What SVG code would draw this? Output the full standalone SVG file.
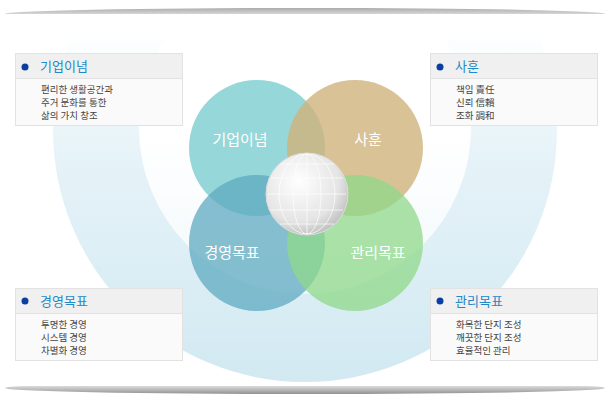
<svg xmlns="http://www.w3.org/2000/svg" width="610" height="400" viewBox="0 0 610 400">
<defs>
<linearGradient id="bg" x1="0" y1="0" x2="0" y2="1"><stop offset="0.3" stop-color="#ffffff"/><stop offset="0.55" stop-color="#e6f3f8"/><stop offset="1" stop-color="#d2e9f2"/></linearGradient>
<linearGradient id="inner" x1="0" y1="0" x2="0" y2="1"><stop offset="0.5" stop-color="#ffffff"/><stop offset="1" stop-color="#ffffff" stop-opacity="0.6"/></linearGradient>
<radialGradient id="sph" cx="0.4" cy="0.35" r="0.7"><stop offset="0" stop-color="#ffffff"/><stop offset="0.7" stop-color="#e4e4e4"/><stop offset="1" stop-color="#bcbcbc"/></radialGradient>
<linearGradient id="sh" x1="0" y1="0" x2="0" y2="1"><stop offset="0" stop-color="#888" stop-opacity="0.7"/><stop offset="1" stop-color="#888" stop-opacity="0"/></linearGradient>
<linearGradient id="sh2" x1="0" y1="1" x2="0" y2="0"><stop offset="0" stop-color="#777" stop-opacity="0.8"/><stop offset="1" stop-color="#777" stop-opacity="0"/></linearGradient>
<clipPath id="frame"><rect x="8" y="16" width="594" height="366"/></clipPath>
</defs>
<style>
.box{fill:#fafafa;stroke:#e2e2e2}
.hd{fill:#f0f0f0}
.t{font-family:"Noto Sans CJK KR",sans-serif;font-size:9.5px;fill:#444}
.h{font-family:"Noto Sans CJK KR",sans-serif;font-size:13px;fill:#1e88c8}
.c{font-family:"Noto Sans CJK KR",sans-serif;font-size:15px;fill:#fff;text-anchor:middle}
</style>
<rect width="610" height="400" fill="#fff"/>
<ellipse cx="305" cy="14" rx="300" ry="6" fill="url(#sh)"/>
<ellipse cx="305" cy="388" rx="300" ry="6" fill="url(#sh2)"/>
<rect x="6" y="14" width="598" height="372" fill="#fff"/>
<g clip-path="url(#frame)"><circle cx="305" cy="130" r="252" fill="url(#bg)"/><circle cx="305" cy="128" r="166" fill="url(#inner)"/></g>
<g id="circles">
<circle cx="257" cy="148" r="68" fill="#7ccdd0" fill-opacity="0.8"/>
<circle cx="355" cy="148" r="68" fill="#cfb37a" fill-opacity="0.8"/>
<circle cx="257" cy="243" r="68" fill="#5ea9c0" fill-opacity="0.75"/>
<circle cx="355" cy="243" r="68" fill="#8fd88a" fill-opacity="0.75"/>
<text class="c" x="240" y="145">기업이념</text>
<text class="c" x="368" y="145">사훈</text>
<text class="c" x="232" y="258">경영목표</text>
<text class="c" x="378" y="258">관리목표</text>
</g>
<g id="sphere">
<circle cx="307" cy="194" r="41" fill="url(#sph)" stroke="#ddd"/>
<g stroke="#fff" stroke-width="0.8" fill="none" opacity="0.9">
<ellipse cx="307" cy="194" rx="14" ry="40"/><ellipse cx="307" cy="194" rx="28" ry="40"/><line x1="307" y1="154" x2="307" y2="234"/>
<line x1="268" y1="194" x2="346" y2="194"/><line x1="271" y1="178" x2="343" y2="178"/><line x1="271" y1="210" x2="343" y2="210"/><line x1="280" y1="164" x2="334" y2="164"/><line x1="280" y1="224" x2="334" y2="224"/>
</g></g>
<g id="box1"><rect class="box" x="15.5" y="53.5" width="167" height="72"/><rect class="hd" x="16" y="54" width="166" height="24"/><line x1="16" y1="78.5" x2="182" y2="78.5" stroke="#e2e2e2"/>
<circle cx="25" cy="67" r="3.5" fill="#0a3fa0"/><text class="h" x="40" y="71">기업이념</text>
<text class="t" x="41" y="93">편리한 생활공간과</text><text class="t" x="41" y="106">주거 문화를 통한</text><text class="t" x="41" y="119">삶의 가치 창조</text></g>
<g id="box2"><rect class="box" x="430.5" y="53.5" width="167" height="72"/><rect class="hd" x="431" y="54" width="166" height="24"/><line x1="431" y1="78.5" x2="597" y2="78.5" stroke="#e2e2e2"/>
<circle cx="440" cy="67" r="3.5" fill="#0a3fa0"/><text class="h" x="455" y="71">사훈</text>
<text class="t" x="456" y="93">책임 責任</text><text class="t" x="456" y="106">신뢰 信賴</text><text class="t" x="456" y="119">조화 調和</text></g>
<g id="box3"><rect class="box" x="15.5" y="288.5" width="167" height="72"/><rect class="hd" x="16" y="289" width="166" height="24"/><line x1="16" y1="313.5" x2="182" y2="313.5" stroke="#e2e2e2"/>
<circle cx="25" cy="301" r="3.5" fill="#0a3fa0"/><text class="h" x="40" y="306">경영목표</text>
<text class="t" x="41" y="328">투명한 경영</text><text class="t" x="41" y="341">시스템 경영</text><text class="t" x="41" y="354">차별화 경영</text></g>
<g id="box4"><rect class="box" x="430.5" y="288.5" width="167" height="72"/><rect class="hd" x="431" y="289" width="166" height="24"/><line x1="431" y1="313.5" x2="597" y2="313.5" stroke="#e2e2e2"/>
<circle cx="440" cy="301" r="3.5" fill="#0a3fa0"/><text class="h" x="455" y="306">관리목표</text>
<text class="t" x="456" y="328">화목한 단지 조성</text><text class="t" x="456" y="341">깨끗한 단지 조성</text><text class="t" x="456" y="354">효율적인 관리</text></g>
<g id="connectors"/>
</svg>
